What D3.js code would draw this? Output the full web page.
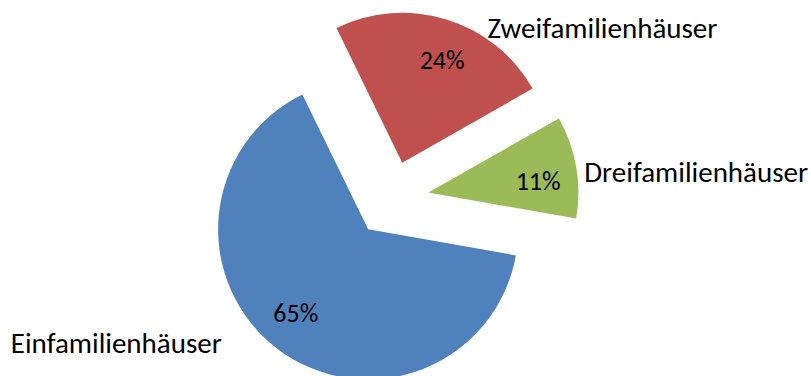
<!DOCTYPE html>
<html>
<head>
<meta charset="utf-8">
<script src="https://cdn.jsdelivr.net/npm/d3@7"></script>
<style>
  html, body { margin: 0; padding: 0; background: #fff; }
  svg { display: block; }
  text { font-family: Carlito, Calibri, Lato, sans-serif; fill: #000; }
</style>
</head>
<body>
<svg id="chart" width="811" height="376"></svg>
<script>
// Housing stock by building type (share in %)
const categories = ["Einfamilienhäuser", "Zweifamilienhäuser", "Dreifamilienhäuser"];
const shares = [65, 24, 11];
const percentLabels = ["65%", "24%", "11%"];
const colors = ["#4F81BD", "#C0504D", "#9BBB59"];

const width = 811, height = 376;
const cx = 391, cy = 199;         // pie centre
const radius = 150;
const explode = 38;               // every slice is pulled out by this distance
const startDeg = 100;             // first slice starts here, clockwise from 12 o'clock
const rad = d => d * Math.PI / 180;

const svg = d3.select("#chart");
const g = svg.append("g").attr("transform", `translate(${cx},${cy})`);

const pie = d3.pie()
  .sort(null)
  .value(d => d)
  .startAngle(rad(startDeg))
  .endAngle(rad(startDeg + 360));

const arcs = pie(shares);
const arc = d3.arc().innerRadius(0).outerRadius(radius);

// point at distance r along angle a (clockwise from 12 o'clock)
const polar = (r, a) => [r * Math.sin(a), -r * Math.cos(a)];
const mid = a => (a.startAngle + a.endAngle) / 2;

const slice = g.selectAll("g.slice")
  .data(arcs)
  .join("g")
  .attr("class", "slice")
  .attr("transform", d => {
    const [dx, dy] = polar(explode, mid(d));
    return `translate(${dx},${dy})`;
  });

slice.append("path")
  .attr("d", arc)
  .attr("fill", (d, i) => colors[i]);

// percentage labels inside each slice
const pctR = radius * 0.735;
slice.append("text")
  .attr("x", d => polar(pctR, mid(d) + rad(4))[0])
  .attr("y", d => polar(pctR, mid(d) + rad(4))[1])
  .attr("text-anchor", "middle")
  .attr("dominant-baseline", "central")
  .style("font-size", "26px")
  .text((d, i) => percentLabels[i]);

// category labels outside, positioned from the slice's outer edge point
const catLayout = [
  { anchor: "end",   dx: -56, dy: 4 },
  { anchor: "start", dx: 41,  dy: 19 },
  { anchor: "start", dx: 8,   dy: 15 }
];

slice.append("text")
  .attr("x", (d, i) => polar(radius, mid(d))[0] + catLayout[i].dx)
  .attr("y", (d, i) => polar(radius, mid(d))[1] + catLayout[i].dy)
  .attr("text-anchor", (d, i) => catLayout[i].anchor)
  .style("font-size", "29px")
  .text((d, i) => categories[i]);
</script>
</body>
</html>
